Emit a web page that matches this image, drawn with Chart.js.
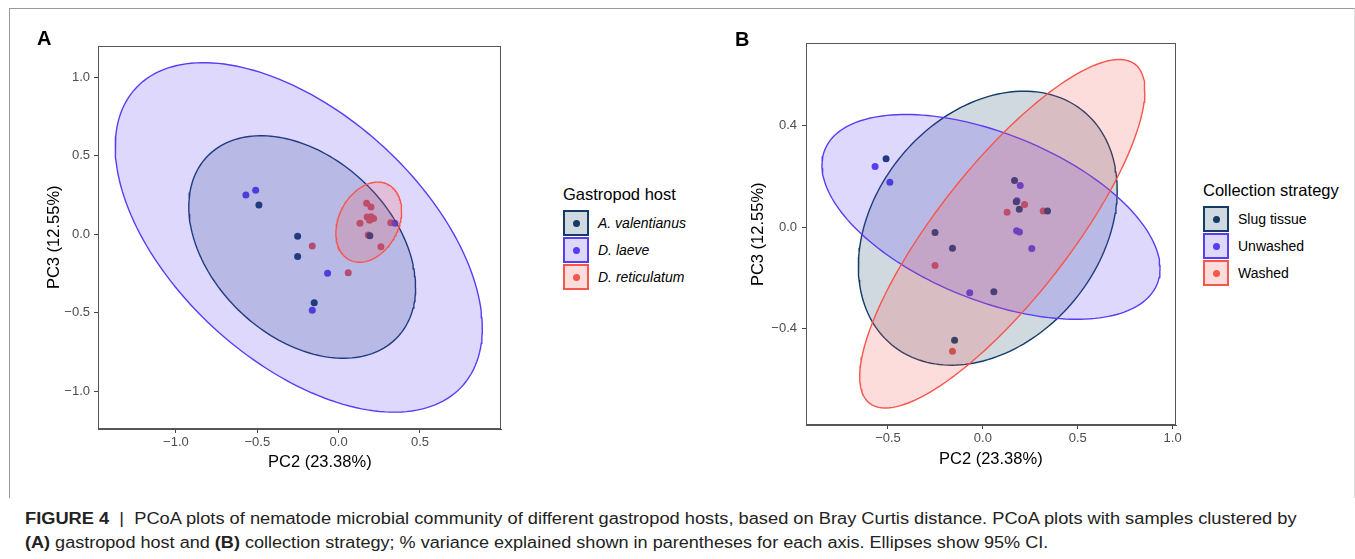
<!DOCTYPE html>
<html>
<head>
<meta charset="utf-8">
<script src="https://cdn.jsdelivr.net/npm/chart.js@4/dist/chart.umd.min.js"></script>
<style>
  body { margin: 0; background: #fff; font-family: 'Liberation Sans', Arial, sans-serif; }
  #page { position: relative; width: 1355px; height: 559px; overflow: hidden; }
  .abs { position: absolute; white-space: nowrap; line-height: 1; }
  .frame { position: absolute; left: 9px; top: 8px; width: 1344px; height: 489px;
           border-left: 1px solid #999; border-top: 1px solid #999; border-right: 1px solid #ddd; }
  .panel { position: absolute; top: 0; height: 490px; }
  .tag { font-weight: bold; font-size: 20px; }
  .axt { font-size: 16.5px; color: #000; }
  .legt { font-size: 16.5px; color: #000; }
  .key { position: absolute; width: 22px; height: 22px; border: 2px solid; }
  .key i { position: absolute; left: 7.5px; top: 7.5px; width: 7px; height: 7px; border-radius: 50%; }
  .lab { font-size: 14px; color: #000; }
  .cap { font-size: 16px; color: #222; transform-origin: 0 0; }
</style>
</head>
<body>
<div id="page">
  <div class="frame"></div>
  <div class="panel" style="left:0;width:540px"><canvas id="chartA"></canvas></div>
  <div class="panel" style="left:700px;width:500px"><canvas id="chartB"></canvas></div>

  <div class="abs tag" style="left:37px;top:28px">A</div>
  <div class="abs tag" style="left:735px;top:29px">B</div>

  <div class="abs axt" id="xtA" style="top:453px">PC2 (23.38%)</div>
  <div class="abs axt" id="ytA">PC3 (12.55%)</div>
  <div class="abs axt" id="xtB" style="top:450px">PC2 (23.38%)</div>
  <div class="abs axt" id="ytB">PC3 (12.55%)</div>

  <div id="legA"></div>
  <div id="legB"></div>

  <div class="abs cap" id="cap1" style="left:25px;top:511px"><b>FIGURE 4</b> &nbsp;|&nbsp; PCoA plots of nematode microbial community of different gastropod hosts, based on Bray Curtis distance. PCoA plots with samples clustered by</div>
  <div class="abs cap" id="cap2" style="left:25px;top:535px"><b>(A)</b> gastropod host and <b>(B)</b> collection strategy; % variance explained shown in parentheses for each axis. Ellipses show 95% CI.</div>
</div>

<script>
  // Panel A: gastropod host
  const hostGroups = ['A. valentianus', 'D. laeve', 'D. reticulatum'];
  const valentianusX = [-0.49, -0.252, -0.252, -0.15, 0.192];
  const valentianusY = [0.186, -0.013, -0.142, -0.435, -0.01];
  const laeveX = [-0.57, -0.51, -0.068, -0.162, 0.346];
  const laeveY = [0.25, 0.28, -0.248, -0.483, 0.07];
  const reticulatumX = [0.172, 0.199, 0.175, 0.19, 0.215, 0.2, 0.131, 0.32, 0.182, 0.26, -0.162, 0.059];
  const reticulatumY = [0.197, 0.174, 0.11, 0.09, 0.1, 0.112, 0.07, 0.074, -0.004, -0.079, -0.074, -0.244];

  // 95% ellipses, centre / half-extent / tilt (sin of phase) per group
  const hostEllipseCX = [-0.224, -0.245, 0.185];
  const hostEllipseCY = [-0.081, -0.02, 0.077];
  const hostEllipseRX = [0.697, 1.128, 0.202];
  const hostEllipseRY = [0.708, 1.112, 0.255];
  const hostEllipseTilt = [-0.363, -0.519, 0.277];

  const xTicksA = [-1, -0.5, 0, 0.5];
  const yTicksA = [-1, -0.5, 0, 0.5, 1];

  // Panel B: collection strategy
  const strategyGroups = ['Slug tissue', 'Unwashed', 'Washed'];
  const slugX = [-0.51, -0.252, -0.16, 0.058, -0.149, 0.167, 0.176, 0.192, 0.341];
  const slugY = [0.269, -0.022, -0.084, -0.255, -0.447, 0.184, 0.1, 0.07, 0.063];
  const unwashedX = [-0.568, -0.49, 0.197, 0.18, 0.178, 0.193, 0.258, -0.069];
  const unwashedY = [0.239, 0.177, 0.164, 0.104, -0.015, -0.02, -0.085, -0.259];
  const washedX = [0.128, 0.22, 0.318, -0.252, -0.16];
  const washedY = [0.058, 0.089, 0.063, -0.152, -0.49];

  const strategyEllipseCX = [0.026, 0.043, 0.1025];
  const strategyEllipseCY = [-0.0045, 0.04, -0.0265];
  const strategyEllipseRX = [0.682, 0.891, 0.7515];
  const strategyEllipseRY = [0.5405, 0.404, 0.6875];
  const strategyEllipseTilt = [0.28, -0.505, 0.82];

  const xTicksB = [-0.5, 0, 0.5, 1];
  const yTicksB = [-0.4, 0, 0.4];

  const groupColors = ['#123B66', '#5B3CF6', '#F7564B'];

  function rgba(hex, a) {
    const n = parseInt(hex.slice(1), 16);
    return 'rgba(' + (n >> 16) + ',' + ((n >> 8) & 255) + ',' + (n & 255) + ',' + a + ')';
  }

  function toPoints(xs, ys) {
    return xs.map((x, i) => ({ x: x, y: ys[i] }));
  }

  // outline of an ellipse given its centre, half extents and tilt
  function ellipseOutline(cx, cy, rx, ry, tilt) {
    const phi = Math.asin(tilt);
    const pts = [];
    for (let k = 0; k <= 180; k++) {
      const t = k / 180 * 2 * Math.PI;
      pts.push({ x: cx + rx * Math.cos(t), y: cy + ry * Math.sin(t + phi) });
    }
    return pts;
  }

  function fmt(v) {
    const s = Number(v).toFixed(1);
    return s === '-0.0' ? '0.0' : s.replace('-', '\u2212');
  }

  // full panel border
  const boxPlugin = {
    id: 'box',
    afterDraw(chart) {
      const a = chart.chartArea, ctx = chart.ctx;
      ctx.save();
      ctx.strokeStyle = '#555';
      ctx.lineWidth = 1;
      ctx.strokeRect(a.left + 0.5, a.top + 0.5, a.right - a.left - 1, a.bottom - a.top - 1);
      ctx.restore();
    }
  };

  function makeChart(id, pointSets, ell, names, ranges, ticks, geom) {
    const datasets = [];
    pointSets.forEach((p, i) => {
      datasets.push({
        label: names[i], data: toPoints(p[0], p[1]), order: 10,
        pointRadius: 3.5, pointBackgroundColor: groupColors[i], pointBorderWidth: 0, showLine: false
      });
    });
    for (let i = 0; i < 3; i++) {
      datasets.push({
        label: names[i] + ' ellipse',
        data: ellipseOutline(ell.cx[i], ell.cy[i], ell.rx[i], ell.ry[i], ell.tilt[i]),
        order: 3 - i, showLine: true, pointRadius: 0, tension: 0,
        borderColor: groupColors[i], borderWidth: 1.4,
        backgroundColor: rgba(groupColors[i], 0.2), fill: 'shape'
      });
    }
    const tickFont = { family: "'Liberation Sans', Arial, sans-serif", size: 13 };
    return new Chart(document.getElementById(id), {
      type: 'scatter',
      data: { datasets: datasets },
      options: {
        responsive: true, maintainAspectRatio: false, animation: false, events: [],
        layout: { padding: { left: 0, top: geom.top, right: geom.right, bottom: 0 } },
        plugins: { legend: { display: false }, tooltip: { enabled: false } },
        scales: {
          x: {
            type: 'linear', min: ranges[0], max: ranges[1],
            afterBuildTicks: s => { s.ticks = ticks[0].map(v => ({ value: v })); },
            afterFit: s => { s.height = geom.xh; },
            ticks: { callback: fmt, color: '#4d4d4d', font: tickFont, padding: 2, maxRotation: 0, autoSkip: false },
            grid: { drawOnChartArea: false, drawTicks: true, tickLength: 4, tickColor: '#444' },
            border: { display: true, color: '#555' }
          },
          y: {
            type: 'linear', min: ranges[2], max: ranges[3],
            afterBuildTicks: s => { s.ticks = ticks[1].map(v => ({ value: v })); },
            afterFit: s => { s.width = geom.yw; },
            ticks: { callback: fmt, color: '#4d4d4d', font: tickFont, padding: geom.ypad, autoSkip: false },
            grid: { drawOnChartArea: false, drawTicks: true, tickLength: 4, tickColor: '#444' },
            border: { display: true, color: '#555' }
          }
        }
      },
      plugins: [boxPlugin]
    });
  }

  makeChart('chartA',
    [[valentianusX, valentianusY], [laeveX, laeveY], [reticulatumX, reticulatumY]],
    { cx: hostEllipseCX, cy: hostEllipseCY, rx: hostEllipseRX, ry: hostEllipseRY, tilt: hostEllipseTilt },
    hostGroups, [-1.479, 0.998, -1.239, 1.198], [xTicksA, yTicksA],
    { top: 46, right: 39, xh: 61, yw: 98, ypad: 4 });

  makeChart('chartB',
    [[slugX, slugY], [unwashedX, unwashedY], [washedX, washedY]],
    { cx: strategyEllipseCX, cy: strategyEllipseCY, rx: strategyEllipseRX, ry: strategyEllipseRY, tilt: strategyEllipseTilt },
    strategyGroups, [-0.932, 1.018, -0.781, 0.726], [xTicksB, yTicksB],
    { top: 43, right: 24, xh: 65, yw: 106, ypad: 5 });

  // legends
  function buildLegend(el, title, names, left, top, italic) {
    let html = '<div class="abs legt" style="left:' + left + 'px;top:' + top + 'px">' + title + '</div>';
    names.forEach((n, i) => {
      const ky = top + 24 + i * 27;
      html += '<div class="key" style="left:' + left + 'px;top:' + ky + 'px;border-color:' + groupColors[i] +
        ';background:' + rgba(groupColors[i], 0.2) + '"><i style="background:' + groupColors[i] + '"></i></div>';
      html += '<div class="abs lab" style="left:' + (left + 35) + 'px;top:' + (ky + 6) + 'px;' +
        (italic ? 'font-style:italic' : '') + '">' + n + '</div>';
    });
    el.innerHTML = html;
  }
  buildLegend(document.getElementById('legA'), 'Gastropod host', hostGroups, 563, 186, true);
  buildLegend(document.getElementById('legB'), 'Collection strategy', strategyGroups, 1203, 182, false);

  // axis titles and caption placement
  function centreX(id, cx) {
    const el = document.getElementById(id);
    el.style.left = (cx - el.offsetWidth / 2) + 'px';
  }
  centreX('xtA', 320);
  centreX('xtB', 991);
  function yTitle(id, cx, cy) {
    const el = document.getElementById(id);
    const w = el.offsetWidth, h = el.offsetHeight;
    el.style.left = (cx - w / 2) + 'px';
    el.style.top = (cy - h / 2) + 'px';
    el.style.transform = 'rotate(-90deg)';
  }
  yTitle('ytA', 52.5, 237.8);
  yTitle('ytB', 757.3, 234);
  function fitWidth(id, target) {
    const el = document.getElementById(id);
    el.style.transform = 'scaleX(' + (target / el.offsetWidth) + ')';
  }
  fitWidth('cap1', 1272);
  fitWidth('cap2', 1023);
</script>
</body>
</html>
